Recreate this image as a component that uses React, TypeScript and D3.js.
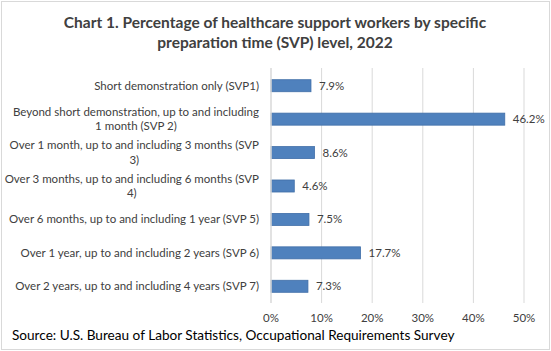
import * as d3 from "d3";
import { useRef, useEffect } from "react";

// category labels, already broken into the lines shown in the chart
const categories: string[][] = [
  ["Short demonstration only (SVP1)"],
  ["Beyond short demonstration, up to and including", "1 month (SVP 2)"],
  ["Over 1 month, up to and including 3 months (SVP", "3)"],
  ["Over 3 months, up to and including 6 months (SVP", "4)"],
  ["Over 6 months, up to and including 1 year (SVP 5)"],
  ["Over 1 year, up to and including 2 years (SVP 6)"],
  ["Over 2 years, up to and including 4 years (SVP 7)"],
];
const values: number[] = [7.9, 46.2, 8.6, 4.6, 7.5, 17.7, 7.3];
const ticks: number[] = [0, 10, 20, 30, 40, 50];
const titleLines: string[] = [
  "Chart 1. Percentage of healthcare support workers by specific",
  "preparation time (SVP) level, 2022",
];
const source = "Source: U.S. Bureau of Labor Statistics, Occupational Requirements Survey";

const FONT = "Lato, 'Open Sans', sans-serif";
const TEXT = "#404040";

export default function App() {
  const svgRef = useRef<SVGSVGElement>(null);

  useEffect(() => {
    document.body.style.margin = "0";
    const svg = d3.select(svgRef.current);
    svg.selectAll("*").remove();

    const width = 551;
    const height = 351;
    const margin = { top: 68, right: 27, bottom: 48, left: 271 };

    // background + light frame
    svg.append("rect").attr("x", 0).attr("y", 0).attr("width", width).attr("height", height).attr("fill", "#fff");
    svg.append("rect").attr("x", 1.5).attr("y", 1.5).attr("width", width - 3).attr("height", height - 3)
      .attr("fill", "none").attr("stroke", "#d9d9d9").attr("stroke-width", 1);

    const x = d3.scaleLinear().domain([0, 50]).range([margin.left, width - margin.right]);
    const y = d3.scaleBand<number>().domain(d3.range(values.length)).range([margin.top + 1, height - margin.bottom]).paddingInner(0.64).paddingOuter(0.32);

    // title
    svg.append("g").selectAll("text").data(titleLines).enter().append("text")
      .attr("x", 275).attr("y", (_, i) => 27.5 + i * 20.5)
      .attr("text-anchor", "middle").attr("fill", TEXT)
      .style("font-family", FONT).style("font-size", "15.5px").style("font-weight", "700")
      .text(d => d);

    // gridlines
    svg.append("g").selectAll("line").data(ticks.slice(1)).enter().append("line")
      .attr("x1", d => x(d)).attr("x2", d => x(d))
      .attr("y1", margin.top).attr("y2", height - margin.bottom)
      .attr("stroke", "#d9d9d9").attr("stroke-width", 1);

    // bars
    svg.append("g").selectAll("rect").data(values).enter().append("rect")
      .attr("x", x(0)).attr("y", (_, i) => y(i)!)
      .attr("width", d => x(d) - x(0)).attr("height", y.bandwidth())
      .attr("fill", "#4f81bd").attr("stroke", "#416fa8").attr("stroke-width", 0.8);

    // vertical axis line
    svg.append("line").attr("x1", x(0)).attr("x2", x(0))
      .attr("y1", margin.top).attr("y2", height - margin.bottom)
      .attr("stroke", "#d9d9d9").attr("stroke-width", 1.5);

    // value labels
    svg.append("g").selectAll("text").data(values).enter().append("text")
      .attr("x", d => x(d) + 8).attr("y", (_, i) => y(i)! + y.bandwidth() / 2)
      .attr("dy", "0.35em").attr("fill", TEXT)
      .style("font-family", FONT).style("font-size", "11.5px")
      .text(d => `${d.toFixed(1)}%`);

    // x tick labels
    svg.append("g").selectAll("text").data(ticks).enter().append("text")
      .attr("x", d => x(d)).attr("y", 318).attr("dy", "0.35em")
      .attr("text-anchor", "middle").attr("fill", TEXT)
      .style("font-family", FONT).style("font-size", "11.5px")
      .text(d => `${d}%`);

    // category labels: right-aligned block, lines centred inside it
    const labelRight = 259;
    const catG = svg.append("g");
    categories.forEach((lines, i) => {
      const cy = y(i)! + y.bandwidth() / 2;
      const g = catG.append("g");
      const texts = g.selectAll("text").data(lines).enter().append("text")
        .attr("y", (_, j) => cy + (j - (lines.length - 1) / 2) * 14.5)
        .attr("dy", "0.35em").attr("fill", TEXT)
        .style("font-family", FONT).style("font-size", "11.5px")
        .text(d => d);
      const widths = texts.nodes().map(n => (n as SVGTextElement).getComputedTextLength());
      const blockW = d3.max(widths) ?? 0;
      const centre = labelRight - blockW / 2;
      texts.attr("x", centre).attr("text-anchor", "middle");
    });

    // source note
    svg.append("text").attr("x", 12).attr("y", 335).attr("dy", "0.35em")
      .attr("fill", "#000")
      .style("font-family", FONT).style("font-size", "13.6px")
      .text(source);
  }, []);

  return <svg ref={svgRef} width={551} height={351} style={{ display: "block" }} />;
}
